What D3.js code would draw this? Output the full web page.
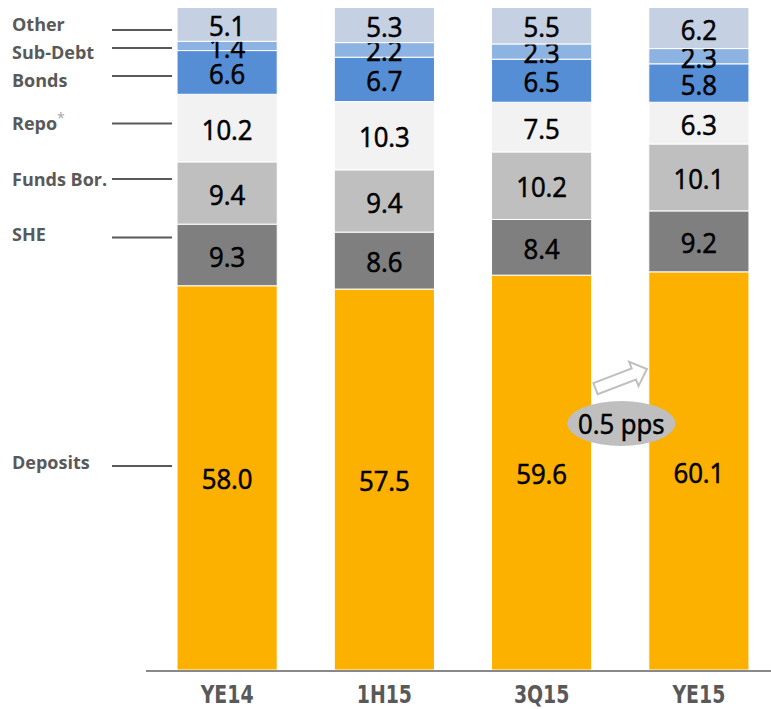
<!DOCTYPE html>
<html>
<head>
<meta charset="utf-8">
<script src="https://cdn.jsdelivr.net/npm/d3@7"></script>
<style>
  body { margin: 0; background: #ffffff; }
  svg { display: block; }
  .series-label { font-family: 'Open Sans', sans-serif; font-weight: bold; font-size: 18px; fill: #595959; }
  .period-label { font-family: 'DejaVu Sans Condensed', 'Open Sans', sans-serif; font-weight: bold; font-size: 25px; fill: #595959; }
  .value-label { font-family: 'Open Sans', sans-serif; font-size: 28px; fill: #000000; stroke: #000000; stroke-width: 0.6px; }
</style>
</head>
<body>
<div id="chart"></div>
<script>

////////////////////////////////////////////////////////////
// Data
////////////////////////////////////////////////////////////

let periods = ['YE14', '1H15', '3Q15', 'YE15']

// bottom to top
let series = ['Deposits', 'SHE', 'Funds Bor.', 'Repo', 'Bonds', 'Sub-Debt', 'Other']

let deposits = [58.0, 57.5, 59.6, 60.1]
let she = [9.3, 8.6, 8.4, 9.2]
let funds_bor = [9.4, 9.4, 10.2, 10.1]
let repo = [10.2, 10.3, 7.5, 6.3]
let bonds = [6.6, 6.7, 6.5, 5.8]
let sub_debt = [1.4, 2.2, 2.3, 2.3]
let other = [5.1, 5.3, 5.5, 6.2]

let change_label = '0.5 pps'

////////////////////////////////////////////////////////////
// Style
////////////////////////////////////////////////////////////

let colors = {
  'Deposits': '#fcb000',
  'SHE': '#7f7f7f',
  'Funds Bor.': '#bfbfbf',
  'Repo': '#f2f2f2',
  'Bonds': '#558ed5',
  'Sub-Debt': '#8db3e2',
  'Other': '#c5d0e3'
}

// left side labels: [text baseline, line y]
let label_pos = {
  'Other': [31, 30],
  'Sub-Debt': [59, 48],
  'Bonds': [87, 76],
  'Repo': [130, 123.5],
  'Funds Bor.': [186, 179],
  'SHE': [241, 237.5],
  'Deposits': [469, 466]
}

let W = 771
let H = 709

////////////////////////////////////////////////////////////
// Build table
////////////////////////////////////////////////////////////

let values = {
  'Deposits': deposits,
  'SHE': she,
  'Funds Bor.': funds_bor,
  'Repo': repo,
  'Bonds': bonds,
  'Sub-Debt': sub_debt,
  'Other': other
}

let rows = periods.map((p, i) => {
  let row = { period: p }
  for (let s of series) {
    row[s] = values[s][i]
  }
  return row
})

let stacked = d3.stack().keys(series)(rows)

////////////////////////////////////////////////////////////
// Scales
////////////////////////////////////////////////////////////

let x_scale = d3.scaleBand()
  .domain(periods)
  .range([148.5, 777.5])
  .paddingInner(0.363)
  .paddingOuter(0.1815)

let y_scale = d3.scaleLinear()
  .domain([0, 100])
  .range([670, 7.5])

let x_mid = d => x_scale(d) + x_scale.bandwidth() / 2

////////////////////////////////////////////////////////////
// Draw
////////////////////////////////////////////////////////////

let svg = d3.select('#chart')
  .append('svg')
  .attr('width', W)
  .attr('height', H)

// Bars
let layers = svg.append('g')
  .selectAll('g')
  .data(stacked)
  .enter()
  .append('g')
    .attr('fill', d => colors[d.key])

layers.selectAll('rect')
  .data(d => d)
  .enter()
  .append('rect')
    .attr('x', d => x_scale(d.data.period))
    .attr('width', x_scale.bandwidth())
    .attr('y', d => y_scale(d[1]))
    .attr('height', d => y_scale(d[0]) - y_scale(d[1]))
    .attr('stroke', '#ffffff')
    .attr('stroke-width', 1)

// Value labels (font squeezed a little to match the narrow digits)
layers.selectAll('text')
  .data(d => d)
  .enter()
  .append('text')
    .attr('class', 'value-label')
    .attr('transform', d => {
      let cy = (y_scale(d[0]) + y_scale(d[1])) / 2 + 1.5
      return `translate(${x_mid(d.data.period)},${cy}) scale(0.92,1)`
    })
    .attr('dy', '0.36em')
    .attr('text-anchor', 'middle')
    .text(d => d3.format('.1f')(d[1] - d[0]))

// X axis line
svg.append('line')
  .attr('x1', 146)
  .attr('x2', W)
  .attr('y1', y_scale(0) + 1)
  .attr('y2', y_scale(0) + 1)
  .attr('stroke', '#898989')
  .attr('stroke-width', 2)

// Period labels
svg.append('g')
  .selectAll('text')
  .data(periods)
  .enter()
  .append('text')
    .attr('class', 'period-label')
    .attr('transform', d => `translate(${x_mid(d)},703) scale(0.84,1.02)`)
    .attr('text-anchor', 'middle')
    .text(d => d)

// Series labels with leader lines
let first_x = x_scale(periods[0])
let legend = svg.append('g')

for (let s of series) {
  let pos = label_pos[s]

  legend.append('line')
    .attr('x1', 112)
    .attr('x2', first_x - 5)
    .attr('y1', pos[1])
    .attr('y2', pos[1])
    .attr('stroke', '#595959')
    .attr('stroke-width', 2)

  let t = legend.append('text')
    .attr('class', 'series-label')
    .attr('x', 12)
    .attr('y', pos[0])
    .text(s)

  if (s == 'Repo') {
    t.append('tspan')
      .attr('font-size', '14px')
      .attr('font-weight', 'normal')
      .attr('fill', '#a6a6a6')
      .attr('dy', '-7')
      .text('*')
  }
}

// Change annotation between the last two bars
let gap_l = x_scale(periods[2]) + x_scale.bandwidth()
let gap_r = x_scale(periods[3])
let gap_c = (gap_l + gap_r) / 2

let arrow = svg.append('g')
  .attr('transform', `translate(${gap_c + 0.5},${379}) rotate(-21)`)

// block arrow pointing right, centred on origin
arrow.append('path')
  .attr('d', 'M-27,-6 L14,-6 L14,-13 L28,0 L14,13 L14,6 L-27,6 Z')
  .attr('fill', '#ffffff')
  .attr('stroke', '#bfbfbf')
  .attr('stroke-width', 2)
  .attr('stroke-linejoin', 'miter')

svg.append('ellipse')
  .attr('cx', gap_c + 1)
  .attr('cy', 423.5)
  .attr('rx', 54)
  .attr('ry', 22.5)
  .attr('fill', '#bfbfbf')

svg.append('text')
  .attr('class', 'value-label')
  .attr('transform', `translate(${gap_c + 1},423.5) scale(0.92,1)`)
  .attr('dy', '0.36em')
  .attr('text-anchor', 'middle')
  .text(change_label)

</script>
</body>
</html>
